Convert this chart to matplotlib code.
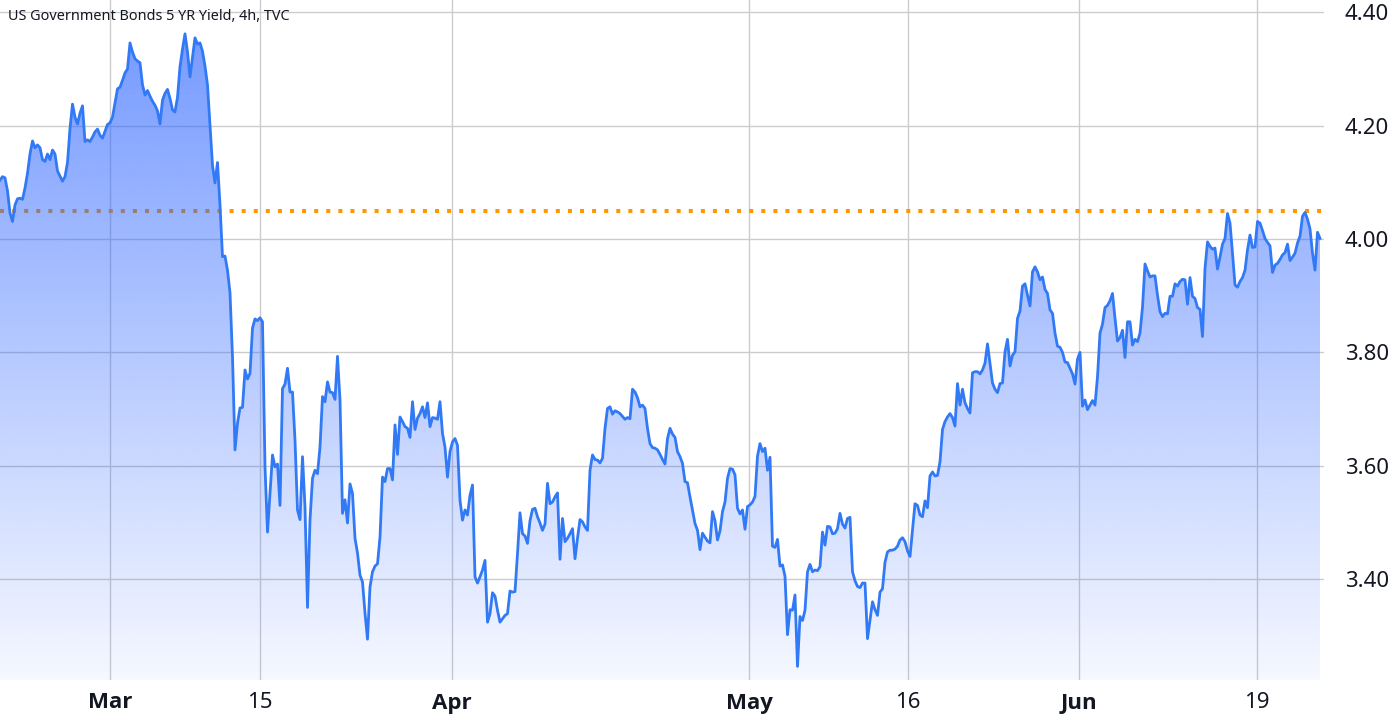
import numpy as np
import matplotlib.pyplot as plt
from matplotlib.colors import to_rgb
from matplotlib.patches import PathPatch

# US 5Y yield, 4h bars
feb_mar = [4.104, 4.110, 4.108, 4.085, 4.046, 4.031, 4.060, 4.071, 4.072, 4.070,
           4.090, 4.116, 4.150, 4.173, 4.161, 4.166, 4.161, 4.140, 4.137, 4.150,
           4.140, 4.157, 4.150, 4.120, 4.111, 4.102, 4.110, 4.135, 4.195, 4.238,
           4.215, 4.203, 4.222, 4.235, 4.172, 4.175, 4.172, 4.180, 4.189, 4.194,
           4.183, 4.178, 4.190, 4.202, 4.205, 4.215, 4.240, 4.265, 4.268, 4.280,
           4.293, 4.300, 4.346, 4.330, 4.318, 4.314, 4.311, 4.272, 4.254, 4.262,
           4.252, 4.243, 4.236, 4.226, 4.203, 4.245, 4.257, 4.264, 4.248, 4.228,
           4.224, 4.250, 4.304, 4.335, 4.362, 4.330, 4.286, 4.320, 4.355, 4.344,
           4.346, 4.331, 4.305, 4.272, 4.200, 4.130, 4.099, 4.135]

mar_apr = [4.060, 3.969, 3.970, 3.945, 3.905, 3.792, 3.628, 3.675, 3.702, 3.703,
           3.769, 3.753, 3.763, 3.843, 3.859, 3.856, 3.861, 3.854, 3.598, 3.483,
           3.550, 3.619, 3.598, 3.603, 3.530, 3.736, 3.744, 3.772, 3.730, 3.730,
           3.645, 3.522, 3.505, 3.616, 3.527, 3.350, 3.504, 3.578, 3.592, 3.586,
           3.633, 3.722, 3.713, 3.748, 3.730, 3.729, 3.717, 3.793, 3.716, 3.516,
           3.540, 3.499, 3.568, 3.551, 3.472, 3.446, 3.407, 3.395, 3.340, 3.294,
           3.386, 3.413, 3.423, 3.427, 3.474, 3.580, 3.572, 3.595, 3.595, 3.575,
           3.672, 3.620, 3.686, 3.678, 3.669, 3.666, 3.650, 3.713, 3.664, 3.684,
           3.692, 3.704, 3.685, 3.711, 3.669, 3.685, 3.684, 3.682, 3.713, 3.657,
           3.633, 3.580, 3.625, 3.642, 3.648, 3.636, 3.539]

apr_may = [3.504, 3.522, 3.513, 3.548, 3.566, 3.404, 3.393, 3.404, 3.416, 3.433,
           3.324, 3.339, 3.376, 3.370, 3.345, 3.324, 3.330, 3.336, 3.339, 3.379,
           3.377, 3.378, 3.445, 3.517, 3.480, 3.476, 3.463, 3.503, 3.523, 3.525,
           3.510, 3.499, 3.486, 3.497, 3.569, 3.533, 3.536, 3.545, 3.552, 3.435,
           3.507, 3.466, 3.472, 3.480, 3.489, 3.436, 3.472, 3.505, 3.501, 3.492,
           3.486, 3.592, 3.619, 3.611, 3.610, 3.605, 3.613, 3.666, 3.701, 3.704,
           3.691, 3.697, 3.695, 3.692, 3.687, 3.682, 3.685, 3.683, 3.735, 3.730,
           3.720, 3.704, 3.707, 3.701, 3.666, 3.639, 3.632, 3.631, 3.628, 3.620,
           3.611, 3.603, 3.648, 3.666, 3.656, 3.650, 3.625, 3.616, 3.604, 3.572,
           3.570, 3.545, 3.522, 3.498, 3.486, 3.452]

may = [3.481, 3.474, 3.467, 3.464, 3.519, 3.503, 3.469, 3.485, 3.519, 3.536,
       3.578, 3.595, 3.594, 3.584, 3.525, 3.515, 3.522, 3.488, 3.528, 3.531,
       3.536, 3.546, 3.617, 3.639, 3.625, 3.631, 3.592, 3.615, 3.458, 3.456,
       3.470, 3.423, 3.425, 3.405, 3.302, 3.346, 3.345, 3.372, 3.246, 3.334,
       3.327, 3.345, 3.413, 3.426, 3.413, 3.416, 3.415, 3.422, 3.483, 3.460,
       3.493, 3.492, 3.480, 3.481, 3.489, 3.516, 3.497, 3.490, 3.507, 3.509,
       3.413, 3.397, 3.387, 3.385, 3.393, 3.393, 3.295, 3.327, 3.360, 3.346,
       3.336, 3.377, 3.383, 3.430, 3.448, 3.451, 3.451, 3.453, 3.458, 3.469,
       3.473, 3.466, 3.450, 3.440, 3.486, 3.533, 3.530, 3.513]

may_jun = [3.510, 3.538, 3.526, 3.582, 3.589, 3.582, 3.583, 3.607, 3.664, 3.678,
           3.686, 3.692, 3.685, 3.670, 3.745, 3.707, 3.735, 3.711, 3.701, 3.693,
           3.764, 3.766, 3.766, 3.762, 3.769, 3.781, 3.815, 3.781, 3.746, 3.735,
           3.729, 3.745, 3.746, 3.801, 3.823, 3.776, 3.795, 3.801, 3.860, 3.873,
           3.917, 3.921, 3.901, 3.882, 3.942, 3.951, 3.942, 3.928, 3.933, 3.911,
           3.904, 3.875, 3.869, 3.834, 3.811, 3.809, 3.800, 3.783, 3.782, 3.772,
           3.762, 3.744, 3.788, 3.800, 3.705, 3.716, 3.699, 3.707, 3.715, 3.707,
           3.757]

jun = [3.834, 3.850, 3.879, 3.883, 3.891, 3.904, 3.860, 3.820, 3.826, 3.839,
       3.791, 3.854, 3.854, 3.813, 3.823, 3.819, 3.834, 3.880, 3.956, 3.944,
       3.933, 3.935, 3.935, 3.901, 3.872, 3.863, 3.869, 3.868, 3.899, 3.899,
       3.921, 3.917, 3.925, 3.929, 3.928, 3.885, 3.932, 3.899, 3.895, 3.879,
       3.876, 3.828, 3.948, 3.995, 3.987, 3.982, 3.984, 3.947, 3.968, 3.991,
       4.001, 4.045, 4.028, 3.975, 3.919, 3.915, 3.925, 3.932, 3.945, 3.981,
       4.007, 3.985, 3.986, 4.031, 4.028, 4.015, 4.001, 3.994, 3.988, 3.941,
       3.954, 3.957, 3.964, 3.972, 3.976, 3.991, 3.962, 3.968, 3.975, 3.993,
       4.005, 4.040, 4.047, 4.035, 4.018, 3.975, 3.945, 4.012, 4.001]

yields = np.array(feb_mar + mar_apr + apr_may + may + may_jun + jun)

tick_labels = ["Mar", "15", "Apr", "May", "16", "Jun", "19"]
tick_bold = [True, False, True, True, False, True, False]
tick_bars = [44, 104, 180.7, 299.7, 363, 431.4, 502.7]
y_ticks = [3.40, 3.60, 3.80, 4.00, 4.20, 4.40]
level = 4.05

ymin, ymax = 3.222, 4.4217
plt.rcParams['font.family'] = ['Noto Sans', 'DejaVu Sans']

fig = plt.figure(figsize=(13.99, 7.23), dpi=100)
ax = fig.add_axes([0, 1 - 680 / 723, 1324 / 1399, 680 / 723])

x = np.arange(len(yields))

# gradient area under the line
poly = ax.fill_between(x, yields, ymin, color='none', lw=0)
clip = PathPatch(poly.get_paths()[0], transform=ax.transData, fc='none', ec='none')
ax.add_patch(clip)
grad = np.zeros((256, 1, 4))
grad[..., :3] = to_rgb('#2962ff')
grad[..., 3] = np.linspace(0.045, 0.67, 256)[:, None]
im = ax.imshow(grad, extent=[0, x[-1], ymin, ymax], aspect='auto',
               origin='lower', zorder=2, interpolation='bilinear')
im.set_clip_path(clip)

ax.plot(x, yields, color='#3179f5', lw=2.0, zorder=3, solid_joinstyle='round')
ax.axhline(level, color='#ff9800', lw=2.9, linestyle=(0, (1, 2)),
           dash_capstyle='butt', zorder=1)

ax.set_xlim(0, 1324 / 2.5)
ax.set_ylim(ymin, ymax)

ax.set_axisbelow(True)
ax.grid(True, color='#cccccc', lw=1)
for s in ax.spines.values():
    s.set_visible(False)

ax.yaxis.tick_right()
ax.set_yticks(y_ticks)
ax.set_yticklabels([f"{v:.2f}" for v in y_ticks])
ax.tick_params(axis='y', length=0, pad=15, labelsize=16, labelcolor='#131722')

# x labels drawn as text so the month names can be bold
ax.set_xticks(tick_bars)
ax.set_xticklabels([])
ax.tick_params(axis='x', length=0)
for pos, lab, b in zip(tick_bars, tick_labels, tick_bold):
    ax.text(pos, -23 / 680, lab, transform=ax.get_xaxis_transform(),
            ha='center', va='center', fontsize=16, color='#131722',
            fontweight='bold' if b else 'normal',
            family=['Open Sans', 'Noto Sans', 'DejaVu Sans'] if b else ['Noto Sans', 'DejaVu Sans'])

fig.text(8 / 1399, 1 - 17 / 723, "US Government Bonds 5 YR Yield, 4h, TVC",
         fontsize=10.4, color='#131722', va='center', ha='left')

fig.savefig('out.png', dpi=100)
